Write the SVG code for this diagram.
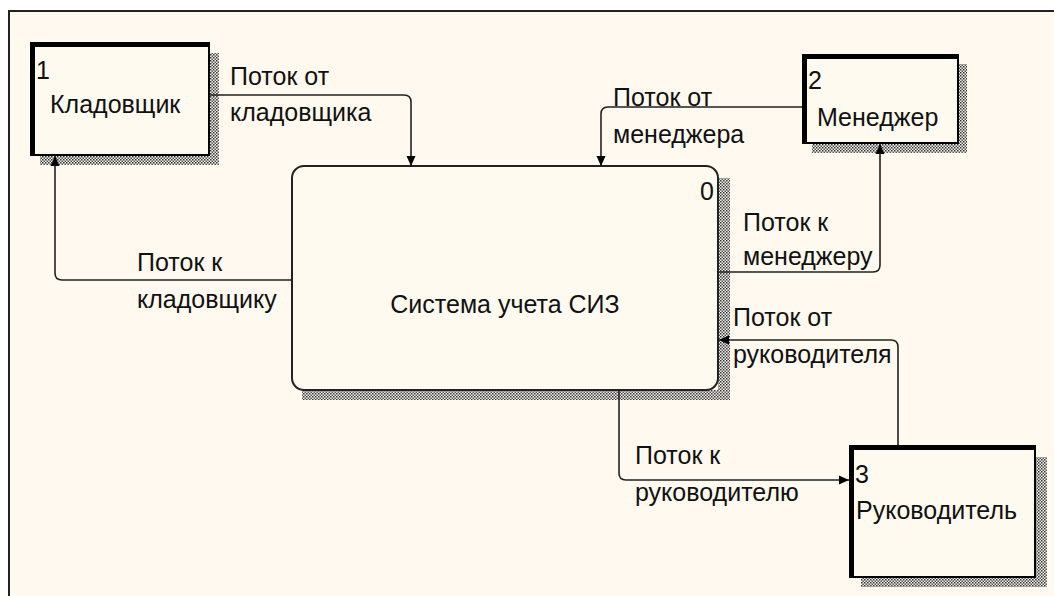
<svg xmlns="http://www.w3.org/2000/svg" width="1054" height="596" viewBox="0 0 1054 596">
<defs>
<pattern id="hatch" width="3" height="3" patternUnits="userSpaceOnUse">
<rect width="3" height="3" fill="#f4f1ea"/>
<rect x="0" y="0" width="1.5" height="1.5" fill="#333"/>
<rect x="1.5" y="1.5" width="1.5" height="1.5" fill="#555"/>
</pattern>
<marker id="arr" viewBox="0 0 10 10" refX="10" refY="5" markerWidth="11" markerHeight="10" markerUnits="userSpaceOnUse" orient="auto">
<path d="M0,0.5 L10,5 L0,9.5 Z" fill="#000"/>
</marker>
<style>
text{font-family:"Liberation Sans",Arial,sans-serif;fill:#111}
.lbl{font-size:25px}
.nm{font-size:25px}
.num{font-size:25px}
.ext{fill:#fffaf0;stroke:#000;stroke-width:2}
.thick{stroke:#000;stroke-width:5;fill:none}
.line{fill:none;stroke:#222;stroke-width:1.6}
</style>
</defs>
<rect width="1054" height="596" fill="#ffffff"/>
<rect x="9" y="11" width="1050" height="590" fill="#fff9ef" stroke="#222" stroke-width="2"/>

<g id="main">
<path d="M718,178 H730 V400 H302 V390 H718 Z" fill="url(#hatch)"/>
<rect x="292" y="166" width="426" height="224" rx="12" fill="#fffaf0" stroke="#222" stroke-width="2"/>
<text class="num" x="714" y="200" text-anchor="end">0</text>
<text class="nm" x="505" y="313" text-anchor="middle">Система учета СИЗ</text>
</g>

<g id="node1">
<path d="M209,53 H219 V165 H40 V155 H209 Z" fill="url(#hatch)"/>
<rect x="31" y="43" width="178" height="112" class="ext"/>
<path class="thick" d="M32.5,155 V44.5 H209"/>
<text class="num" x="36" y="79">1</text>
<text class="nm" x="50" y="113">Кладовщик</text>
</g>

<g id="node2">
<path d="M958,64 H967 V153 H812 V143 H958 Z" fill="url(#hatch)"/>
<rect x="803" y="55" width="155" height="88" class="ext"/>
<path class="thick" d="M804.5,143 V56.5 H958"/>
<text class="num" x="808" y="89">2</text>
<text class="nm" x="817" y="126">Менеджер</text>
</g>

<g id="node3">
<path d="M1035,457 H1047 V587 H861 V577 H1035 Z" fill="url(#hatch)"/>
<rect x="850" y="446" width="185" height="131" class="ext"/>
<path class="thick" d="M851.5,577 V447.5 H1035"/>
<text class="num" x="855" y="483">3</text>
<text class="nm" x="856" y="519">Руководитель</text>
</g>

<g id="connectors">
<path class="line" d="M209,95 H404 Q411,95 411,102 V166" marker-end="url(#arr)"/>
<path class="line" d="M802,107 H608 Q601,107 601,114 V166" marker-end="url(#arr)"/>
<path class="line" d="M718,272 H873 Q880,272 880,265 V144" marker-end="url(#arr)"/>
<path class="line" d="M898,445 V347 Q898,340 891,340 H719" marker-end="url(#arr)"/>
<path class="line" d="M619,390 V473 Q619,480 626,480 H849" marker-end="url(#arr)"/>
<path class="line" d="M292,280 H62 Q55,280 55,273 V156" marker-end="url(#arr)"/>
<text class="lbl" x="230" y="85">Поток от</text>
<text class="lbl" x="230" y="121">кладовщика</text>
<text class="lbl" x="613" y="106">Поток от</text>
<text class="lbl" x="613" y="143">менеджера</text>
<text class="lbl" x="743" y="231">Поток к</text>
<text class="lbl" x="743" y="265">менеджеру</text>
<text class="lbl" x="733" y="326">Поток от</text>
<text class="lbl" x="733" y="363">руководителя</text>
<text class="lbl" x="635" y="464">Поток к</text>
<text class="lbl" x="635" y="501">руководителю</text>
<text class="lbl" x="137" y="271">Поток к</text>
<text class="lbl" x="137" y="308">кладовщику</text>
</g>
</svg>
